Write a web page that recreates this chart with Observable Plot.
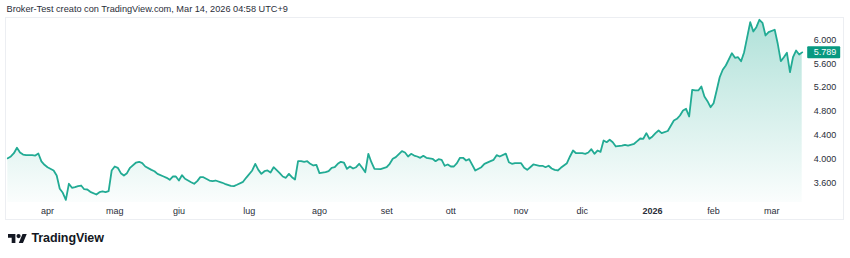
<!DOCTYPE html>
<html><head><meta charset="utf-8">
<script src="https://cdn.jsdelivr.net/npm/d3@7"></script>
<script src="https://cdn.jsdelivr.net/npm/@observablehq/plot@0.6"></script>
<style>
html,body{margin:0;padding:0;background:#fff;}
#wrap{position:relative;width:850px;height:258px;overflow:hidden;font-family:"Liberation Sans",Arial,Helvetica,sans-serif;}
#chart{position:absolute;left:0;top:0;}
#title{position:absolute;left:6.5px;top:4.5px;font-size:9.2px;line-height:9px;color:#2a2e39;white-space:nowrap;}
#panel{position:absolute;left:5px;top:17px;width:837px;height:201px;border:1px solid #eceef2;pointer-events:none;}
#logo{position:absolute;left:7.5px;top:231.5px;height:13px;white-space:nowrap;}
#logo svg{position:absolute;left:0;top:2px;}
#logo span{position:absolute;left:24px;top:0;font-size:12.5px;line-height:12.5px;font-weight:bold;color:#131722;letter-spacing:-0.1px;}
</style></head>
<body>
<div id="wrap">
  <div id="chart"></div>
  <div id="panel"></div>
  <div id="title">Broker-Test creato con TradingView.com, Mar 14, 2026 04:58 UTC+9</div>
  <div id="logo">
    <svg width="19" height="9.5" viewBox="0 4 36 18"><path d="M14 22H7V11H0V4h14v18zM28 22h-8l7.5-18h8L28 22z" fill="#131722"/><circle cx="20" cy="8" r="4" fill="#131722"/></svg>
    <span>TradingView</span>
  </div>
</div>
<script>
// Trading-session index (bar number) and closing price
const bars = [0,1,2,3,4,5,6,8,9,10,11,12,13,15,16,17,18,19,20,21,22,23,24,25,26,27,29,30,31,32,33,34,35,36,37,38,39,40,42,43,44,45,47,48,49,51,52,53,54,55,56,57,58,60,61,62,63,64,66,67,68,70,71,73,74,75,77,78,80,81,82,83,84,85,86,87,89,90,91,92,93,94,95,96,97,98,99,100,101,102,104,105,106,107,108,109,110,111,112,113,114,115,116,117,118,119,120,122,124,125,126,127,129,130,131,132,133,134,135,136,137,139,140,141,142,143,144,145,146,147,148,149,150,151,153,155,156,158,159,160,161,163,164,165,166,167,168,169,170,171,172,174,175,176,177,178,179,180,181,183,184,185,186,188,189,190,191,192,193,194,195,196,197,198,199,201,202,203,205,206,207,208,209,210,211,212,213,214,216,218,219,220,221,222,223,224,225,226,227,228,229,230,231,232,233,234,235,237,238,239,240,241,242,243,244,245,246,247,248,249,251,252,253,254,255,256,257,258,259,260];
const prices = [4013,4042,4097,4188,4110,4075,4064,4064,4058,4092,3960,3902,3862,3807,3723,3500,3433,3315,3584,3517,3527,3544,3555,3493,3488,3449,3404,3443,3455,3443,3460,3807,3874,3852,3762,3723,3762,3852,3941,3953,3930,3874,3818,3795,3751,3706,3684,3651,3706,3706,3639,3728,3668,3611,3584,3628,3695,3695,3639,3628,3639,3605,3584,3550,3544,3567,3617,3684,3807,3919,3818,3751,3795,3807,3773,3862,3762,3706,3684,3751,3695,3656,3963,3963,3953,3963,3919,3891,3902,3762,3778,3795,3850,3862,3919,3953,3941,3835,3874,3840,3862,3919,3852,3778,4087,3946,3835,3829,3862,3919,4003,4031,4131,4109,4042,4087,4058,4042,4020,4053,4020,4003,3963,3997,3986,3886,3908,3874,3874,3930,4020,4020,3975,3997,3807,3862,3919,3963,3986,4064,4042,4090,3946,3919,3930,3930,3930,3852,3818,3862,3908,3886,3886,3862,3886,3840,3818,3807,3852,3930,4042,4142,4097,4097,4087,4109,4165,4087,4142,4120,4310,4282,4322,4282,4210,4226,4238,4226,4255,4299,4344,4339,4433,4339,4378,4433,4478,4433,4470,4646,4674,4730,4814,4842,4713,5161,5150,5150,5216,5049,4970,4869,4936,5150,5372,5497,5569,5775,5698,5708,5641,5792,6044,6295,6139,6211,6336,6285,6072,6128,6168,5933,5641,5708,5782,5456,5708,5820,5753,5789];

// Time axis: labels and the bar on which each month begins
const monthLabels = ["apr","mag","giu","lug","ago","set","ott","nov","dic","feb","mar"];
const monthBars   = [13, 35, 56, 79, 102, 124, 145, 168, 188, 231, 250];
const yearLabel = "2026";
const yearBar = 211;

// Price axis ticks
const priceTicks = [3600, 4000, 4400, 4800, 5200, 5600, 6000];

const data = bars.map((b, i) => ({bar: b, price: prices[i]}));
const last = data[data.length - 1];
const fmt = v => d3.format(",")(v).replace(/,/g, ".");
const monthMap = new Map(monthBars.map((b, i) => [b, monthLabels[i]]));

const lineColor = "#22ab94";
const yLo = 3270, yHi = 6374;

const gradientDefs = () => {
  const defs = d3.create("svg:defs");
  const lg = defs.append("linearGradient").attr("id", "fillGrad")
    .attr("gradientUnits", "userSpaceOnUse").attr("x1", 0).attr("x2", 0).attr("y1", 17).attr("y2", 202);
  lg.append("stop").attr("offset", "0%").attr("stop-color", lineColor).attr("stop-opacity", 0.36);
  lg.append("stop").attr("offset", "100%").attr("stop-color", lineColor).attr("stop-opacity", 0.02);
  return defs.node();
};

const chart = Plot.plot({
  width: 850,
  height: 258,
  marginTop: 17,
  marginBottom: 56,
  marginLeft: 7.3,
  marginRight: 48.3,
  style: {background: "transparent", fontFamily: '"Liberation Sans", Arial, Helvetica, sans-serif', fontSize: "9px", color: "#2a2e39"},
  x: {domain: [0, 260], label: null},
  y: {domain: [yLo, yHi], label: null},
  marks: [
    gradientDefs,
    Plot.areaY(data, {x: "bar", y1: yLo, y2: "price", fill: "url(#fillGrad)"}),
    Plot.lineY(data, {x: "bar", y: "price", stroke: lineColor, strokeWidth: 1.8, strokeLinejoin: "round"}),
    Plot.axisY(priceTicks, {anchor: "right", label: null, tickSize: 0, tickPadding: 11.5, tickFormat: fmt, fontSize: 9}),
    Plot.axisX(monthBars, {anchor: "bottom", label: null, tickSize: 0, tickPadding: 5, tickFormat: d => monthMap.get(d), fontSize: 9}),
    Plot.axisX([yearBar], {anchor: "bottom", label: null, tickSize: 0, tickPadding: 5, tickFormat: () => yearLabel, fontSize: 9, fontWeight: "bold"}),
    Plot.text([last], {
      x: "bar", y: "price", text: d => fmt(d.price), dx: 11.5, textAnchor: "start", fill: "white", fontSize: 9,
      render(index, scales, values, dimensions, context, next) {
        const g = next(index, scales, values, dimensions, context);
        const r = document.createElementNS("http://www.w3.org/2000/svg", "rect");
        r.setAttribute("x", values.x[0] + 5 - 11.5);
        r.setAttribute("y", values.y[0] - 6);
        r.setAttribute("width", 33);
        r.setAttribute("height", 12);
        r.setAttribute("rx", 1);
        r.setAttribute("fill", "#089981");
        g.insertBefore(r, g.firstChild);
        return g;
      }
    })
  ]
});
document.getElementById("chart").appendChild(chart);
</script>
</body></html>
